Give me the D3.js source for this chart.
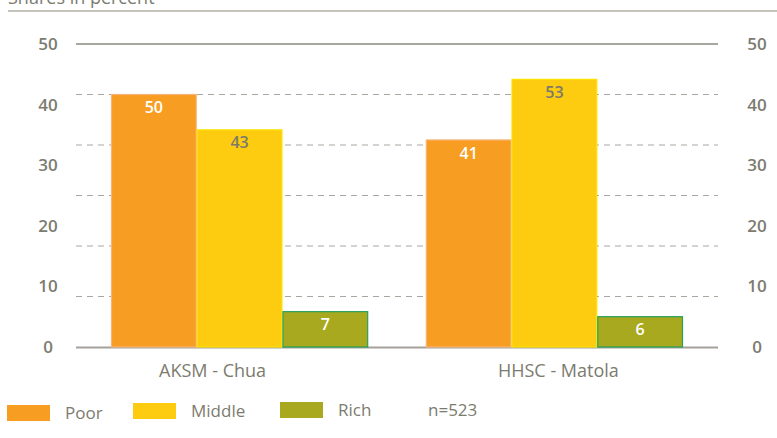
<!DOCTYPE html>
<html><head><meta charset="utf-8">
<script src="https://cdn.jsdelivr.net/npm/d3@7"></script>
<style>body{margin:0;background:#fff}svg{display:block}text{font-family:"Open Sans","DejaVu Sans",sans-serif}</style>
</head><body><svg id="c" width="777" height="438"></svg>
<script>
const categories = ["AKSM - Chua", "HHSC - Matola"];
const seriesNames = ["Poor", "Middle", "Rich"];
const poor = [50, 41];
const middle = [43, 53];
const rich = [7, 6];
const gridValues = [0, 10, 20, 30, 40, 50, 60];
const tickLabels = [0, 10, 20, 30, 40, 50];
const note = "n=523";

const fills = ["#F79D22", "#FDCB0F", "#A8A91E"];
const strokes = ["#F8B47A", "#FCE300", "#26A15A"];
const valueColors = ["#ffffff", "#7c7a6c", "#ffffff"];
const textCol = "#7c7b6f";

const svg = d3.select("#c");
const series = [poor, middle, rich];

const y = d3.scaleLinear().domain([0, 60]).range([347, 44]);
const yLab = d3.scaleLinear().domain([0, 50]).range([347, 44]);
const x0 = d3.scaleBand().domain(categories).range([111, 683]).paddingInner(0.183);
const x1 = d3.scaleBand().domain(seriesNames).range([0, x0.bandwidth()]);

// title (cut at top edge, as in the reference)
svg.append("text").attr("x", 8).attr("y", 4).attr("font-size", 18).attr("fill", textCol).text("Shares in percent");
svg.append("line").attr("x1", 8).attr("x2", 777).attr("y1", 11).attr("y2", 11).attr("stroke", "#b3b0a7").attr("stroke-width", 1.5);

// grid
svg.selectAll(".g").data(gridValues.filter(d => d > 0)).join("line")
  .attr("x1", 76).attr("x2", 718)
  .attr("y1", d => y(d)).attr("y2", d => y(d))
  .attr("stroke", d => d === 60 ? "#8b8a7d" : "#a9a79f")
  .attr("stroke-width", d => d === 60 ? 1.5 : 1.2)
  .attr("stroke-dasharray", d => d === 60 ? null : "6,5");

// tick labels both sides
[48, 757].forEach(xp => {
  svg.selectAll(null).data(tickLabels).join("text")
    .attr("x", xp).attr("y", d => yLab(d)).attr("dy", "0.35em")
    .attr("text-anchor", "middle").attr("font-size", 17).attr("font-weight", 600)
    .attr("fill", textCol).text(d => d);
});

// zero axis
svg.append("line").attr("x1", 76).attr("x2", 718).attr("y1", y(0) + 0.5).attr("y2", y(0) + 0.5)
  .attr("stroke", "#a3a199").attr("stroke-width", 2);

// bars
const groups = svg.selectAll(".grp").data(categories).join("g")
  .attr("transform", d => `translate(${x0(d)},0)`);
groups.each(function(cat, ci) {
  const g = d3.select(this);
  seriesNames.forEach((s, si) => {
    const v = series[si][ci];
    g.append("rect").attr("x", x1(s) + 0.5).attr("y", y(v))
      .attr("width", x1.bandwidth() - 1).attr("height", y(0) - y(v))
      .attr("fill", fills[si]).attr("stroke", strokes[si]).attr("stroke-width", 1.2);
    g.append("text").attr("x", x1(s) + x1.bandwidth() / 2).attr("y", y(v) + 13)
      .attr("dy", "0.35em").attr("text-anchor", "middle").attr("font-size", 16).attr("font-weight", 600)
      .attr("fill", valueColors[si]).text(v);
  });
});

// category labels
const labelDx = [-27, 4];
svg.selectAll(".cl").data(categories).join("text")
  .attr("x", (d, i) => x0(d) + x0.bandwidth() / 2 + labelDx[i]).attr("y", 371).attr("dy", "0.35em")
  .attr("text-anchor", "middle").attr("font-size", 18).attr("fill", textCol).text(d => d);

// legend
const legX = [7, 133, 280];
const legY = [405, 403, 402];
seriesNames.forEach((s, i) => {
  svg.append("rect").attr("x", legX[i]).attr("y", legY[i]).attr("width", 43).attr("height", 16).attr("fill", fills[i]);
  svg.append("text").attr("x", legX[i] + 58).attr("y", legY[i] + 8).attr("dy", "0.35em")
    .attr("font-size", 17).attr("fill", textCol).text(s);
});
svg.append("text").attr("x", 428).attr("y", 410).attr("dy", "0.35em").attr("font-size", 17).attr("fill", textCol).text(note);
</script></body></html>
